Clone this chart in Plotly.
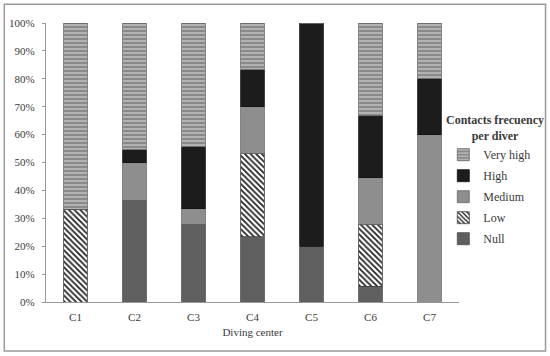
import plotly.graph_objects as go

centers = ["C1", "C2", "C3", "C4", "C5", "C6", "C7"]
null_vals = [0.0, 0.364, 0.278, 0.233, 0.20, 0.056, 0.0]
low_vals = [0.333, 0.0, 0.0, 0.300, 0.0, 0.222, 0.0]
medium_vals = [0.0, 0.136, 0.056, 0.167, 0.0, 0.167, 0.60]
high_vals = [0.0, 0.045, 0.222, 0.133, 0.80, 0.222, 0.20]
very_high_vals = [0.667, 0.455, 0.444, 0.167, 0.0, 0.333, 0.20]
y_ticks = [0, 0.1, 0.2, 0.3, 0.4, 0.5, 0.6, 0.7, 0.8, 0.9, 1.0]
y_tick_labels = ["0%", "10%", "20%", "30%", "40%", "50%", "60%", "70%", "80%", "90%", "100%"]

FONT = "Liberation Serif"

series = [
    ("Null", null_vals, 5, dict(color="#5f5f5f", line=dict(color="#4a4a4a", width=0.8))),
    ("Low", low_vals, 4, dict(color="white", line=dict(color="#444", width=0.8),
                              pattern=dict(shape="\\", fgcolor="#222", bgcolor="white",
                                           size=4, solidity=0.45, fillmode="replace"))),
    ("Medium", medium_vals, 3, dict(color="#8e8e8e", line=dict(color="#666", width=0.8))),
    ("High", high_vals, 2, dict(color="#1c1c1c", line=dict(color="#111", width=0.8))),
    ("Very high", very_high_vals, 1, dict(color="#8c8c8c", line=dict(color="#666", width=0.8),
                                         pattern=dict(shape="-", fgcolor="#c4c4c4", bgcolor="#8a8a8a",
                                                      size=4, solidity=0.35, fillmode="replace"))),
]

fig = go.Figure()
for name, vals, rank, marker in series:
    fig.add_trace(go.Bar(x=centers, y=vals, name=name, marker=marker,
                         legendgroup=name, legendrank=rank, hoverinfo="skip"))

fig.update_layout(
    width=550, height=356,
    barmode="stack", bargap=0.594,
    paper_bgcolor="white", plot_bgcolor="white",
    margin=dict(l=46, r=91, t=23, b=54, pad=0, autoexpand=False),
    font=dict(family=FONT, size=11, color="#3a3a3a"),
    showlegend=True,
    legend=dict(
        x=0.962, xanchor="left", y=0.58, yanchor="top",
        traceorder="grouped", tracegroupgap=2,
        font=dict(family=FONT, size=12, color="#3a3a3a"),
        itemwidth=30, bgcolor="rgba(0,0,0,0)",
    ),
    annotations=[dict(
        text="<b>Contacts frecuency<br>per diver</b>",
        xref="paper", yref="paper", x=1.086, y=0.624, xanchor="center", yanchor="middle",
        showarrow=False, align="center",
        font=dict(family=FONT, size=12, color="#3a3a3a"),
    )],
    shapes=[dict(type="rect", xref="paper", yref="paper",
                 x0=-0.101, x1=1.2095, y0=-0.1756, y1=1.067,
                 line=dict(color="#9a9a9a", width=1.5), fillcolor="rgba(0,0,0,0)")],
)

fig.update_xaxes(
    showline=True, linecolor="#999", linewidth=1.2, ticks="",
    showgrid=False, tickfont=dict(family=FONT, size=11, color="#3a3a3a"),
    ticklabelstandoff=5,
    title=dict(text="Diving center", font=dict(family=FONT, size=11, color="#3a3a3a"), standoff=6),
)
fig.update_yaxes(
    range=[0, 1], tickvals=y_ticks, ticktext=y_tick_labels,
    showline=True, linecolor="#999", linewidth=1.2,
    ticks="outside", ticklen=3, tickcolor="#999",
    showgrid=False, zeroline=False, ticklabelstandoff=5,
    tickfont=dict(family=FONT, size=11, color="#3a3a3a"),
)

fig.write_html("out.html", config={"displayModeBar": False},
               post_script="document.body.style.margin='0';")
